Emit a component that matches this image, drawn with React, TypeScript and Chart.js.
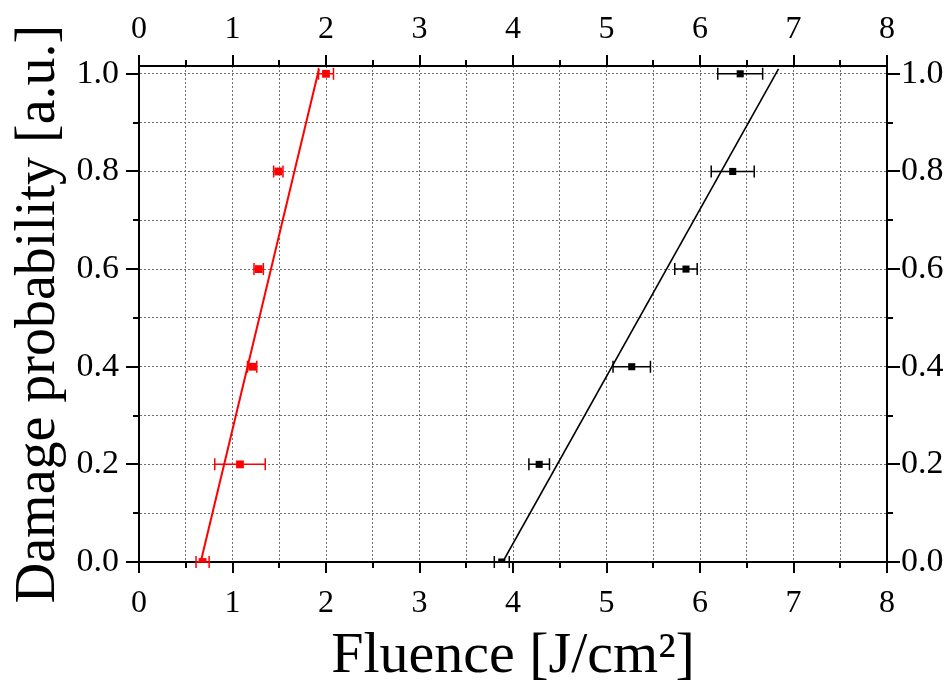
import React, { useEffect, useRef } from "react";
import { Chart, registerables } from "chart.js";
Chart.register(...registerables);

// Damage probability levels (y) for both series
const probabilities = [0.0, 0.2, 0.4, 0.6, 0.8, 1.0];
// Red series: fluence and horizontal error
const redFluence = [0.68, 1.08, 1.21, 1.28, 1.49, 2.0];
const redErr = [0.07, 0.27, 0.05, 0.05, 0.05, 0.08];
// Black series: fluence and horizontal error
const blackFluence = [3.88, 4.28, 5.27, 5.85, 6.35, 6.43];
const blackErr = [0.08, 0.11, 0.2, 0.12, 0.23, 0.24];
// Linear fits (two end points each)
const redFitX = [0.66, 1.925];
const redFitY = [0.0, 1.01];
const blackFitX = [3.89, 6.84];
const blackFitY = [0.0, 1.01];
// Axis ticks
const xTickValues = [0, 0.5, 1, 1.5, 2, 2.5, 3, 3.5, 4, 4.5, 5, 5.5, 6, 6.5, 7, 7.5, 8];
const yTickValues = [0, 0.1, 0.2, 0.3, 0.4, 0.5, 0.6, 0.7, 0.8, 0.9, 1.0];
const xMin = 0;
const xMax = 8;
const yMin = 0;
const yMax = 1.016;

const isMajorX = (v: number) => Math.abs(v - Math.round(v)) < 1e-6;
const isMajorY = (v: number) => Math.abs(v * 5 - Math.round(v * 5)) < 1e-6;

const SERIF = "'Liberation Serif', 'Times New Roman', serif";

const errorBarPlugin = {
  id: "errorBars",
  beforeDatasetsDraw(chart: any) {
    const ctx = chart.ctx;
    const xs = chart.scales.x;
    const ys = chart.scales.y;
    const series = [
      { xv: redFluence, err: redErr, color: "#ff0000" },
      { xv: blackFluence, err: blackErr, color: "#000000" },
    ];
    ctx.save();
    series.forEach((s) => {
      ctx.strokeStyle = s.color;
      ctx.lineWidth = 1.5;
      s.xv.forEach((x, i) => {
        const py = ys.getPixelForValue(probabilities[i]);
        const x1 = xs.getPixelForValue(x - s.err[i]);
        const x2 = xs.getPixelForValue(x + s.err[i]);
        ctx.beginPath();
        ctx.moveTo(x1, py);
        ctx.lineTo(x2, py);
        ctx.moveTo(x1, py - 6);
        ctx.lineTo(x1, py + 6);
        ctx.moveTo(x2, py - 6);
        ctx.lineTo(x2, py + 6);
        ctx.stroke();
      });
    });
    ctx.restore();
  },
};

const tickMarkPlugin = {
  id: "tickMarks",
  afterDraw(chart: any) {
    const ctx = chart.ctx;
    const a = chart.chartArea;
    const xs = chart.scales.x;
    const ys = chart.scales.y;
    ctx.save();
    ctx.strokeStyle = "#000";
    ctx.lineWidth = 2;
    ctx.beginPath();
    xTickValues.forEach((v) => {
      const px = Math.round(xs.getPixelForValue(v));
      const len = isMajorX(v) ? 11 : 6;
      ctx.moveTo(px, a.bottom);
      ctx.lineTo(px, a.bottom + len);
      ctx.moveTo(px, a.top);
      ctx.lineTo(px, a.top - len);
    });
    yTickValues.forEach((v) => {
      const py = Math.round(ys.getPixelForValue(v));
      const len = isMajorY(v) ? 13 : 6;
      ctx.moveTo(a.left, py);
      ctx.lineTo(a.left - len, py);
      ctx.moveTo(a.right, py);
      ctx.lineTo(a.right + len, py);
    });
    ctx.stroke();
    ctx.restore();
  },
};

const xLabel = (v: any) => (isMajorX(Number(v)) ? String(Math.round(Number(v))) : "");
const yLabel = (v: any) => (isMajorY(Number(v)) ? Number(v).toFixed(1) : "");

export default function App() {
  const ref = useRef<HTMLCanvasElement | null>(null);
  useEffect(() => {
    if (!ref.current) return;
    const gridCommon = {
      color: "#6e6e6e",
      lineWidth: 1,
      drawTicks: false,
    };
    const borderCommon = { display: true, color: "#000", width: 2, dash: [2, 2] };
    const chart = new Chart(ref.current, {
      type: "scatter",
      data: {
        datasets: [
          {
            label: "red fit",
            type: "line",
            data: redFitX.map((x, i) => ({ x, y: redFitY[i] })),
            borderColor: "#ff0000",
            borderWidth: 2,
            pointRadius: 0,
            showLine: true,
            fill: false,
          } as any,
          {
            label: "black fit",
            type: "line",
            data: blackFitX.map((x, i) => ({ x, y: blackFitY[i] })),
            borderColor: "#000",
            borderWidth: 1.6,
            pointRadius: 0,
            showLine: true,
            fill: false,
          } as any,
          {
            label: "red",
            data: redFluence.map((x, i) => ({ x, y: probabilities[i] })),
            backgroundColor: "#ff0000",
            borderColor: "#ff0000",
            pointStyle: "rect",
            pointRadius: 5.5,
            borderWidth: 0,
          },
          {
            label: "black",
            data: blackFluence.map((x, i) => ({ x, y: probabilities[i] })),
            backgroundColor: "#000",
            borderColor: "#000",
            pointStyle: "rect",
            pointRadius: 5,
            borderWidth: 0,
          },
        ],
      },
      options: {
        responsive: false,
        animation: false,
        devicePixelRatio: 1,
        layout: { padding: 0 },
        plugins: { legend: { display: false }, tooltip: { enabled: false } },
        scales: {
          x: {
            type: "linear",
            position: "bottom",
            min: xMin,
            max: xMax,
            afterBuildTicks: (s: any) => {
              s.ticks = xTickValues.map((v) => ({ value: v }));
            },
            afterFit: (s: any) => {
              s.height = 122;
            },
            grid: gridCommon,
            border: borderCommon,
            ticks: {
              callback: xLabel,
              color: "#000",
              padding: 22,
              maxRotation: 0,
              autoSkip: false,
              font: { family: SERIF, size: 32 },
            },
            title: {
              display: true,
              text: "Fluence [J/cm²]",
              color: "#000",
              font: { family: SERIF, size: 58, lineHeight: 0.94 },
              padding: { top: 0, bottom: 0 },
            },
          },
          x2: {
            type: "linear",
            position: "top",
            min: xMin,
            max: xMax,
            afterBuildTicks: (s: any) => {
              s.ticks = xTickValues.map((v) => ({ value: v }));
            },
            afterFit: (s: any) => {
              s.height = 66;
            },
            grid: { display: false, drawTicks: false },
            border: { display: true, color: "#000", width: 2 },
            ticks: {
              callback: xLabel,
              color: "#000",
              padding: 17,
              maxRotation: 0,
              autoSkip: false,
              font: { family: SERIF, size: 32 },
            },
          },
          y: {
            type: "linear",
            position: "left",
            min: yMin,
            max: yMax,
            afterBuildTicks: (s: any) => {
              s.ticks = yTickValues.map((v) => ({ value: v }));
            },
            afterFit: (s: any) => {
              s.width = 139;
            },
            grid: gridCommon,
            border: borderCommon,
            ticks: {
              callback: yLabel,
              color: "#000",
              padding: 20,
              autoSkip: false,
              font: { family: SERIF, size: 34 },
            },
            title: {
              display: true,
              text: "Damage probability [a.u.]",
              color: "#000",
              font: { family: SERIF, size: 56, lineHeight: 1 },
              padding: { top: 11, bottom: 0 },
            },
          },
          y2: {
            type: "linear",
            position: "right",
            min: yMin,
            max: yMax,
            afterBuildTicks: (s: any) => {
              s.ticks = yTickValues.map((v) => ({ value: v }));
            },
            afterFit: (s: any) => {
              s.width = 65;
            },
            grid: { display: false, drawTicks: false },
            border: { display: true, color: "#000", width: 2 },
            ticks: {
              callback: yLabel,
              color: "#000",
              padding: 14,
              autoSkip: false,
              font: { family: SERIF, size: 34 },
            },
          },
        },
      },
      plugins: [errorBarPlugin, tickMarkPlugin],
    } as any);
    return () => chart.destroy();
  }, []);
  return (
    <div style={{ position: "absolute", left: 0, top: 0, width: 952, height: 684, background: "#fff" }}>
      <canvas ref={ref} width={952} height={684} style={{ display: "block", width: 952, height: 684 }} />
    </div>
  );
}
